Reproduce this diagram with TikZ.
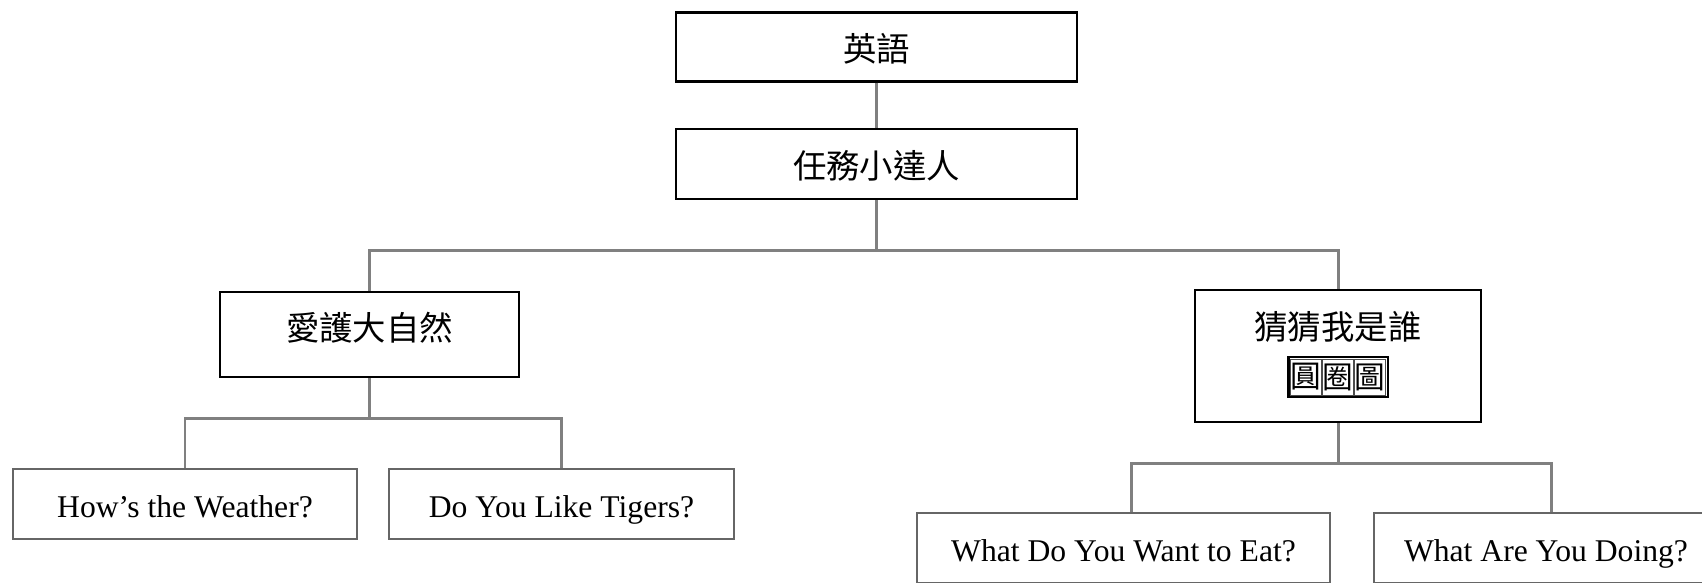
\documentclass[tikz,border=0pt]{standalone}
\usepackage{fontspec}
\setmainfont{Liberation Serif}
\newfontfamily\cjk{Noto Sans CJK TC}
\usetikzlibrary{positioning,fit}

\tikzset{
  topbox/.style={draw=black, line width=1.4pt, inner sep=0pt, text height=17pt, text depth=1pt, font=\cjk\fontsize{19}{22}\selectfont},
  leafbox/.style={draw=black!60, line width=1.4pt, inner sep=0pt, minimum height=1.4cm, text height=16pt, text depth=1pt, font=\fontsize{18}{20}\selectfont},
  link/.style={draw=black!50, line width=1.7pt},
  cell/.style={draw=black!70, line width=0.5pt, inner sep=0pt, minimum width=0.62cm, minimum height=0.72cm, font=\cjk\fontsize{17.5}{18}\selectfont}
}

\begin{document}
\begin{tikzpicture}[x=0.02cm, y=-0.02cm]
 \clip (0,0) rectangle (1702,582);
 \fill[white] (0,0) rectangle (1702,582);
 \node[topbox, minimum width=8.02cm, minimum height=1.38cm] (english) at (876.5,47) {英語};
 \node[topbox, minimum width=8.02cm, minimum height=1.4cm] (task) at (876.5,164) {任務小達人};
 \node[topbox, minimum width=5.98cm, minimum height=1.7cm, text height=12pt, text depth=5pt] (nature) at (369.5,334.5) {愛護大自然};
 \node[topbox, minimum width=5.72cm, minimum height=2.64cm] (guess) at (1338,356) {};
 \node[font=\cjk\fontsize{19}{22}\selectfont] (guesstext) at (1338,327) {猜猜我是誰};
 \node[cell] (c2) at (1338,377) {圈};
 \node[cell, left=0pt of c2] (c1) {圓};
 \node[cell, right=0pt of c2] (c3) {圖};
 \node[draw=black, line width=1.2pt, inner sep=1pt, fit=(c1)(c3)] (cards) {};
 \node[leafbox, minimum width=6.88cm] (weather) at (185,504) {How’s the Weather?};
 \node[leafbox, minimum width=6.9cm] (tigers) at (561.5,504) {Do You Like Tigers?};
 \node[leafbox, minimum width=8.26cm] (eat) at (1123.5,548) {What Do You Want to Eat?};
 \node[leafbox, minimum width=6.88cm] (doing) at (1546,548) {What Are You Doing?};
 \coordinate (j1) at (876.5,250);
 \coordinate (j2) at (369.5,418);
 \coordinate (j3) at (1338,463);
 \draw[link] (english) -- (task);
 \draw[link] (task) -- (j1);
 \draw[link] (nature.north) |- (j1) -| (guess.north);
 \draw[link] (nature) -- (j2);
 \draw[link] (weather.north) |- (j2) -| (tigers.north);
 \draw[link] (guess) -- (j3);
 \draw[link] ([xshift=0.15cm]eat.north) |- (j3) -| ([xshift=0.1cm]doing.north);
\end{tikzpicture}
\end{document}
